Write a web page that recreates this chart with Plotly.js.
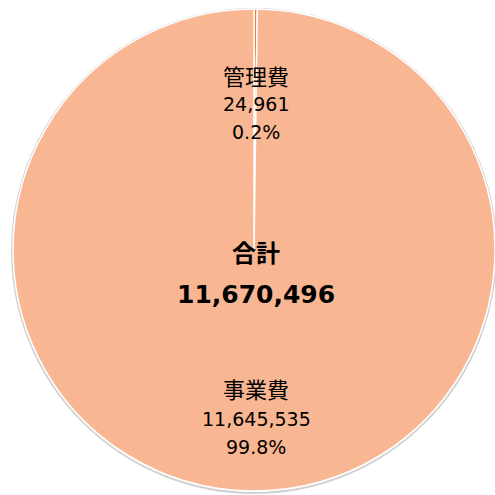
<!DOCTYPE html>
<html>
<head>
<meta charset="utf-8">
<script src="https://cdn.plot.ly/plotly-3.0.1.min.js"></script>
<style>html,body{margin:0;padding:0;background:#fff;}#chart{width:495px;height:495px;}</style>
</head>
<body>
<div id="chart"></div>
<script>
const categories = ["管理費", "事業費"];
const values = [24961, 11645535];
const colors = ["#E97F35", "#F8B692"];
const totalLabel = "合計";

const W = 495, H = 495;
const cx = 254, cy = 250, R = 241;
const total = values.reduce((a, b) => a + b, 0);
const fmt = v => v.toLocaleString("en-US");
const pct = v => (v / total * 100).toFixed(1) + "%";

const trace = {
  type: "pie",
  labels: categories,
  values: values,
  sort: false,
  direction: "clockwise",
  rotation: 0,
  marker: { colors: colors, line: { color: "#ffffff", width: 1.5 } },
  textinfo: "none",
  hoverinfo: "label+value+percent",
  showlegend: false,
  domain: { x: [(cx - R) / W, (cx + R) / W], y: [(H - cy - R) / H, (H - cy + R) / H] }
};

const font = "'DejaVu Sans', 'Noto Sans CJK JP', sans-serif";
const cjk = "'Noto Sans CJK JP', sans-serif";
const ann = (y, text, size, bold, fam) => ({
  xref: "paper", yref: "paper", x: 256 / W, y: 1 - y / H,
  xanchor: "center", yanchor: "middle", showarrow: false,
  text: bold ? "<b>" + text + "</b>" : text,
  font: { family: fam, size: size, color: "#000" }
});

const annotations = [
  ann(75, categories[0], 22, false, cjk),
  ann(104, fmt(values[0]), 19, false, font),
  ann(132, pct(values[0]), 19, false, font),
  ann(251, totalLabel, 24, true, cjk),
  ann(294, fmt(total), 25, true, font),
  ann(388, categories[1], 22, false, cjk),
  ann(419, fmt(values[1]), 19, false, font),
  ann(447, pct(values[1]), 19, false, font)
];

const layout = {
  width: W, height: H,
  margin: { l: 0, r: 0, t: 0, b: 0 },
  paper_bgcolor: "#ffffff",
  plot_bgcolor: "#ffffff",
  annotations: annotations,
  shapes: [{
    type: "circle", xref: "paper", yref: "paper", layer: "below",
    x0: (cx - R - 1) / W, x1: (cx + R + 1) / W,
    y0: (H - cy - R - 2) / H, y1: (H - cy + R) / H,
    line: { color: "rgba(0,0,0,0.18)", width: 2 }, fillcolor: "rgba(0,0,0,0)"
  }]
};

Plotly.newPlot("chart", [trace], layout, { displayModeBar: false, staticPlot: true });
</script>
</body>
</html>
